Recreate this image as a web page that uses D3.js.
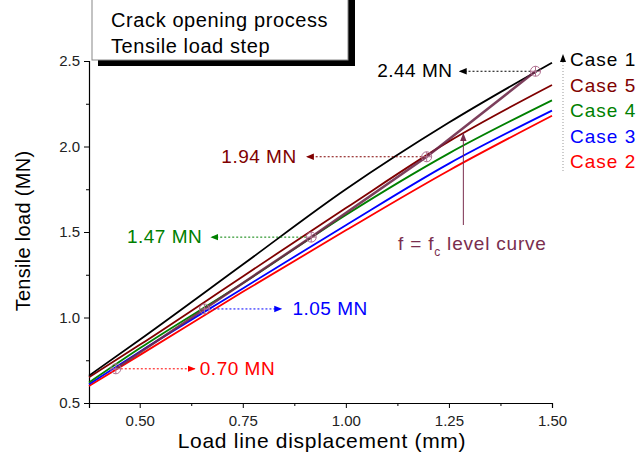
<!DOCTYPE html>
<html lang="en">
<head>
<meta charset="utf-8">
<title>Tensile load vs displacement</title>
<script src="https://d3js.org/d3.v7.min.js"></script>
<style>
  body { margin: 0; background: #fff; }
  text { font-family: "Liberation Sans", Arial, sans-serif; }
</style>
</head>
<body>
<div id="chart"></div>
<script>
// data
const xs = [0.377, 0.5, 0.75, 1.0, 1.25, 1.5];
const case1 = [0.66, 0.87, 1.31, 1.75, 2.14, 2.49];
const case5 = [0.65, 0.84, 1.24, 1.64, 2.03, 2.36];
const case4 = [0.62, 0.82, 1.20, 1.60, 1.96, 2.27];
const case3 = [0.61, 0.80, 1.17, 1.54, 1.90, 2.21];
const case2 = [0.60, 0.78, 1.15, 1.51, 1.86, 2.18];

const seriesNames = ["Case 1", "Case 5", "Case 4", "Case 3", "Case 2"];
const seriesColors = ["#000000", "#800000", "#008000", "#0000ff", "#ff0000"];
const seriesVals = [case1, case5, case4, case3, case2];

// f = fc level curve points
const levelX = [0.442, 0.657, 0.916, 1.196, 1.46];
const levelY = [0.70, 1.05, 1.47, 1.94, 2.44];
const levelLabels = ["0.70 MN", "1.05 MN", "1.47 MN", "1.94 MN", "2.44 MN"];
const levelColors = ["#ff0000", "#0000ff", "#008000", "#800000", "#000000"];
const levelSide = ["right", "right", "left", "left", "left"];

const xTicks = [0.5, 0.75, 1.0, 1.25, 1.5];
const yTicks = [0.5, 1.0, 1.5, 2.0, 2.5];

const width = 638, height = 467;
const svg = d3.select("#chart").append("svg")
    .attr("width", width).attr("height", height);

const x = d3.scaleLinear().domain([0.377, 1.5]).range([89, 552]);
const y = d3.scaleLinear().domain([0.5, 2.5]).range([403, 61]);

const defs = svg.append("defs");
function marker(id, color) {
    defs.append("marker")
        .attr("id", id)
        .attr("viewBox", "0 0 10 10")
        .attr("refX", 9).attr("refY", 5)
        .attr("markerWidth", 8).attr("markerHeight", 8)
        .attr("markerUnits", "userSpaceOnUse")
        .attr("orient", "auto")
        .append("path").attr("d", "M0,1 L10,5 L0,9 Z").attr("fill", color);
}
levelColors.forEach((c, i) => marker("arr" + i, c));
marker("arrLevel", "#7a2e4e");

// text box with shadow
svg.append("rect").attr("x", 98).attr("y", -5).attr("width", 257).attr("height", 71).attr("fill", "#000");
svg.append("rect").attr("x", 92).attr("y", -5).attr("width", 256).attr("height", 65)
    .attr("fill", "#fff").attr("stroke", "#888").attr("stroke-width", 1);
svg.append("text").attr("x", 111).attr("y", 27).attr("font-size", 20)
    .attr("letter-spacing", 0.6).text("Crack opening process");
svg.append("text").attr("x", 111).attr("y", 53).attr("font-size", 20)
    .attr("letter-spacing", 0.6).text("Tensile load step");

// axes
svg.append("g").attr("transform", "translate(0,403)")
    .call(d3.axisBottom(x).tickValues(xTicks).tickFormat(d3.format(".2f")).tickSize(5).tickPadding(7));
svg.append("g").attr("transform", "translate(0,403)")
    .call(d3.axisBottom(x).tickValues([0.625, 0.875, 1.125, 1.375]).tickFormat("").tickSize(3))
    .select(".domain").remove();
svg.append("g").attr("transform", "translate(89,0)")
    .call(d3.axisLeft(y).tickValues(yTicks).tickFormat(d3.format(".1f")).tickSize(5).tickPadding(4));
svg.append("g").attr("transform", "translate(89,0)")
    .call(d3.axisLeft(y).tickValues([0.75, 1.25, 1.75, 2.25]).tickFormat("").tickSize(3))
    .select(".domain").remove();
svg.selectAll(".domain").attr("stroke", "#000").attr("stroke-width", 1.2);
svg.selectAll(".tick line").attr("stroke", "#000");
svg.selectAll(".tick text").attr("font-size", 15).attr("fill", "#222")
    .attr("font-family", "Liberation Sans, Arial, sans-serif");

svg.append("text").attr("x", 322).attr("y", 448).attr("text-anchor", "middle")
    .attr("font-size", 21).attr("letter-spacing", 0.7).text("Load line displacement (mm)");
svg.append("text").attr("transform", "translate(30,231) rotate(-90)")
    .attr("text-anchor", "middle").attr("font-size", 20).attr("letter-spacing", 0.3)
    .text("Tensile load (MN)");

// curves
const line = d3.line().x(d => x(d[0])).y(d => y(d[1]));
const smooth = d3.line().x(d => x(d[0])).y(d => y(d[1])).curve(d3.curveMonotoneX);
[4, 3, 2, 1, 0].forEach(i => {
    svg.append("path")
        .datum(xs.map((v, j) => [v, seriesVals[i][j]]))
        .attr("d", smooth)
        .attr("fill", "none")
        .attr("stroke", seriesColors[i])
        .attr("stroke-width", 1.8);
});

// level curve
svg.append("path")
    .datum(levelX.map((v, j) => [v, levelY[j]]))
    .attr("d", line)
    .attr("fill", "none")
    .attr("stroke", "#6e2a4a")
    .attr("stroke-width", 2.5)
    .attr("stroke-opacity", 0.9);

// callouts
const arrowLen = [79, 77, 100, 120, 76];
const textGap = [5, 11, 9, 10, 7];
levelX.forEach((v, i) => {
    const cx = x(v), cy = y(levelY[i]);
    const right = levelSide[i] === "right";
    const x2 = right ? cx + arrowLen[i] : cx - arrowLen[i];
    svg.append("line")
        .attr("x1", right ? cx + 5 : cx - 5).attr("y1", cy)
        .attr("x2", x2).attr("y2", cy)
        .attr("stroke", levelColors[i]).attr("stroke-width", 1)
        .attr("stroke-dasharray", "2,2")
        .attr("marker-end", "url(#arr" + i + ")");
    svg.append("text")
        .attr("x", right ? x2 + textGap[i] : x2 - textGap[i]).attr("y", cy + 6)
        .attr("text-anchor", right ? "start" : "end")
        .attr("font-size", 19).attr("letter-spacing", 0.5).attr("fill", levelColors[i])
        .text(levelLabels[i]);
    // crosshair circle
    const g = svg.append("g").attr("stroke", "#b07090").attr("fill", "none").attr("stroke-width", 1);
    g.append("circle").attr("cx", cx).attr("cy", cy).attr("r", 5);
    g.append("line").attr("x1", cx - 5).attr("x2", cx + 5).attr("y1", cy).attr("y2", cy);
    g.append("line").attr("x1", cx).attr("x2", cx).attr("y1", cy - 5).attr("y2", cy + 5);
});

// level curve pointer
const px = x(1.285);
svg.append("line").attr("x1", px).attr("x2", px).attr("y1", 225).attr("y2", y(2.075))
    .attr("stroke", "#7a2e4e").attr("stroke-width", 1)
    .attr("marker-end", "url(#arrLevel)");
const lt = svg.append("text").attr("x", 398).attr("y", 250).attr("font-size", 19)
    .attr("letter-spacing", 0.8).attr("fill", "#7a2e4e");
lt.append("tspan").text("f = f");
lt.append("tspan").attr("font-size", 12).attr("dy", 6).text("c");
lt.append("tspan").attr("dy", -6).text(" level curve");

// legend
svg.append("line").attr("x1", 563).attr("x2", 563).attr("y1", 56).attr("y2", 172)
    .attr("stroke", "#999").attr("stroke-dasharray", "1,2");
svg.append("path").attr("d", "M560,62 L563,54 L566,62 Z").attr("fill", "#000");
seriesNames.forEach((n, i) => {
    svg.append("text").attr("x", 570).attr("y", 66 + i * 25.5)
        .attr("font-size", 19).attr("letter-spacing", 1).attr("fill", seriesColors[i]).text(n);
});
</script>
</body>
</html>
